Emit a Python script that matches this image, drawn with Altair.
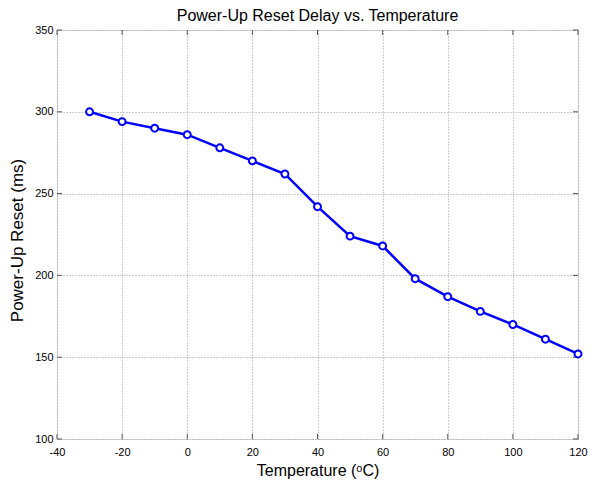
import altair as alt
import pandas as pd

temps = [-30, -20, -10, 0, 10, 20, 30, 40, 50, 60, 70, 80, 90, 100, 110, 120]
reset_ms = [300, 294, 290, 286, 278, 270, 262, 242, 224, 218, 198, 187, 178, 170, 161, 152]
x_ticks = [-40, -20, 0, 20, 40, 60, 80, 100, 120]
y_ticks = [100, 150, 200, 250, 300, 350]

W, H = 521, 409
df = pd.DataFrame({"t": temps, "r": reset_ms})
dfx = pd.DataFrame({"t": x_ticks})
dfy = pd.DataFrame({"r": y_ticks})

FONT = "Liberation Sans"
xs = alt.Scale(domain=[-40, 120], nice=False, zero=False)
ys = alt.Scale(domain=[100, 350], nice=False, zero=False)

xaxis = alt.Axis(values=x_ticks, grid=True, gridDash=[1, 2], gridColor="#9a9a9a",
                 tickSize=0, domain=False, labelPadding=7, labelFontSize=11,
                 labelFont=FONT, labelColor="#000", titleFont=FONT, titleFontSize=16,
                 titleFontWeight="normal", titleColor="#000", titlePadding=5,
                 labelFlush=False, labelExpr="replace(datum.label, '\u2212', '-')")
yaxis = alt.Axis(values=y_ticks, grid=True, gridDash=[1, 2], gridColor="#9a9a9a",
                 tickSize=0, domain=False, labelPadding=4, labelFontSize=11,
                 labelFont=FONT, labelColor="#000", titleFont=FONT, titleFontSize=17,
                 titleFontWeight="normal", titleColor="#000", titlePadding=8,
                 titleY=210, labelFlush=False)

base_line = alt.Chart(df).mark_line(color="#0000FF", strokeWidth=2.5).encode(
    x=alt.X("t:Q", scale=xs, axis=xaxis, title="Temperature (ᵒC)"),
    y=alt.Y("r:Q", scale=ys, axis=yaxis, title="Power-Up Reset (ms)"),
)
pts = alt.Chart(df).mark_point(shape="circle", filled=True, fill="white",
                               stroke="#0000FF", strokeWidth=2, size=48, opacity=1).encode(
    x=alt.X("t:Q", scale=xs), y=alt.Y("r:Q", scale=ys))

tick_col = "#555555"
bt = alt.Chart(dfx).mark_rule(color=tick_col).encode(
    x=alt.X("t:Q", scale=xs), y=alt.value(H), y2=alt.value(H - 5))
tt = alt.Chart(dfx).mark_rule(color=tick_col).encode(
    x=alt.X("t:Q", scale=xs), y=alt.value(0), y2=alt.value(5))
lt = alt.Chart(dfy).mark_rule(color=tick_col).encode(
    y=alt.Y("r:Q", scale=ys), x=alt.value(0), x2=alt.value(5))
rt = alt.Chart(dfy).mark_rule(color=tick_col).encode(
    y=alt.Y("r:Q", scale=ys), x=alt.value(W), x2=alt.value(W - 5))

chart = alt.layer(bt, tt, lt, rt, base_line, pts).properties(
    width=W, height=H,
    title=alt.Title("Power-Up Reset Delay vs. Temperature", font=FONT, fontSize=16,
                    fontWeight="normal", color="#000", offset=0),
    autosize=alt.AutoSizeParams(type="none"),
    padding={"left": 49, "top": 22, "right": 11, "bottom": 40},
).configure_view(stroke="#555555", strokeWidth=1).configure(background="white")

chart.save("out.html", embed_options={"renderer": "svg", "actions": False})
